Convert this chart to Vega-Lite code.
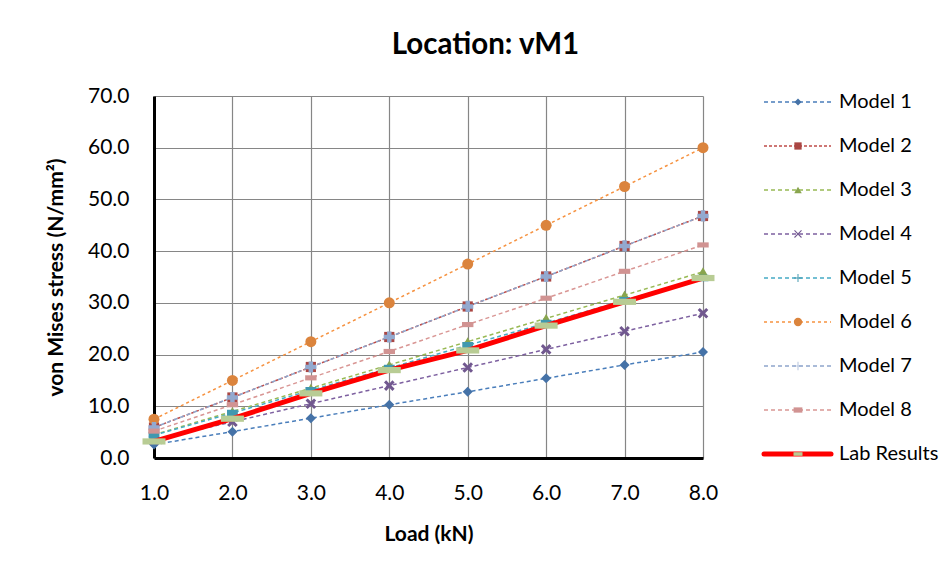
{
  "$schema": "https://vega.github.io/schema/vega-lite/v6.json",
  "background": "white",
  "padding": {"left": 45, "top": 29, "right": 0, "bottom": 10},
  "autosize": {"type": "pad"},
  "bounds": "flush",
  "spacing": 61,
  "config": {
    "font": "Lato",
    "view": {"stroke": null},
    "axis": {"labelFont": "Lato", "titleFont": "Lato", "labelColor": "#000000", "titleColor": "#000000", "labelFlush": false}
  },
  "datasets": {
    "series": [
      {"series": "Model 1"}, {"series": "Model 2"}, {"series": "Model 3"},
      {"series": "Model 4"}, {"series": "Model 5"}, {"series": "Model 6"},
      {"series": "Model 7"}, {"series": "Model 8"}, {"series": "Lab Results"}
    ],
    "values": [
      {"series": "Model 1", "load": 1, "stress": 2.6},
      {"series": "Model 1", "load": 2, "stress": 5.1},
      {"series": "Model 1", "load": 3, "stress": 7.7},
      {"series": "Model 1", "load": 4, "stress": 10.3},
      {"series": "Model 1", "load": 5, "stress": 12.8},
      {"series": "Model 1", "load": 6, "stress": 15.4},
      {"series": "Model 1", "load": 7, "stress": 18.0},
      {"series": "Model 1", "load": 8, "stress": 20.5},
      {"series": "Model 2", "load": 1, "stress": 5.9},
      {"series": "Model 2", "load": 2, "stress": 11.7},
      {"series": "Model 2", "load": 3, "stress": 17.6},
      {"series": "Model 2", "load": 4, "stress": 23.4},
      {"series": "Model 2", "load": 5, "stress": 29.3},
      {"series": "Model 2", "load": 6, "stress": 35.1},
      {"series": "Model 2", "load": 7, "stress": 41.0},
      {"series": "Model 2", "load": 8, "stress": 46.8},
      {"series": "Model 3", "load": 1, "stress": 4.5},
      {"series": "Model 3", "load": 2, "stress": 9.0},
      {"series": "Model 3", "load": 3, "stress": 13.5},
      {"series": "Model 3", "load": 4, "stress": 18.0},
      {"series": "Model 3", "load": 5, "stress": 22.5},
      {"series": "Model 3", "load": 6, "stress": 27.0},
      {"series": "Model 3", "load": 7, "stress": 31.5},
      {"series": "Model 3", "load": 8, "stress": 36.0},
      {"series": "Model 4", "load": 1, "stress": 3.5},
      {"series": "Model 4", "load": 2, "stress": 7.0},
      {"series": "Model 4", "load": 3, "stress": 10.5},
      {"series": "Model 4", "load": 4, "stress": 14.0},
      {"series": "Model 4", "load": 5, "stress": 17.5},
      {"series": "Model 4", "load": 6, "stress": 21.0},
      {"series": "Model 4", "load": 7, "stress": 24.5},
      {"series": "Model 4", "load": 8, "stress": 28.0},
      {"series": "Model 5", "load": 1, "stress": 4.4},
      {"series": "Model 5", "load": 2, "stress": 8.7},
      {"series": "Model 5", "load": 3, "stress": 13.1},
      {"series": "Model 5", "load": 4, "stress": 17.4},
      {"series": "Model 5", "load": 5, "stress": 21.8},
      {"series": "Model 5", "load": 6, "stress": 26.1},
      {"series": "Model 5", "load": 7, "stress": 30.5},
      {"series": "Model 5", "load": 8, "stress": 34.8},
      {"series": "Model 6", "load": 1, "stress": 7.5},
      {"series": "Model 6", "load": 2, "stress": 15.0},
      {"series": "Model 6", "load": 3, "stress": 22.5},
      {"series": "Model 6", "load": 4, "stress": 30.0},
      {"series": "Model 6", "load": 5, "stress": 37.5},
      {"series": "Model 6", "load": 6, "stress": 45.0},
      {"series": "Model 6", "load": 7, "stress": 52.5},
      {"series": "Model 6", "load": 8, "stress": 60.0},
      {"series": "Model 7", "load": 1, "stress": 5.9},
      {"series": "Model 7", "load": 2, "stress": 11.7},
      {"series": "Model 7", "load": 3, "stress": 17.6},
      {"series": "Model 7", "load": 4, "stress": 23.4},
      {"series": "Model 7", "load": 5, "stress": 29.3},
      {"series": "Model 7", "load": 6, "stress": 35.1},
      {"series": "Model 7", "load": 7, "stress": 41.0},
      {"series": "Model 7", "load": 8, "stress": 46.8},
      {"series": "Model 8", "load": 1, "stress": 5.2},
      {"series": "Model 8", "load": 2, "stress": 10.3},
      {"series": "Model 8", "load": 3, "stress": 15.5},
      {"series": "Model 8", "load": 4, "stress": 20.6},
      {"series": "Model 8", "load": 5, "stress": 25.8},
      {"series": "Model 8", "load": 6, "stress": 30.9},
      {"series": "Model 8", "load": 7, "stress": 36.1},
      {"series": "Model 8", "load": 8, "stress": 41.2},
      {"series": "Lab Results", "load": 1, "stress": 3.2},
      {"series": "Lab Results", "load": 2, "stress": 7.6},
      {"series": "Lab Results", "load": 3, "stress": 12.5},
      {"series": "Lab Results", "load": 4, "stress": 17.0},
      {"series": "Lab Results", "load": 5, "stress": 20.8},
      {"series": "Lab Results", "load": 6, "stress": 25.6},
      {"series": "Lab Results", "load": 7, "stress": 30.2},
      {"series": "Lab Results", "load": 8, "stress": 34.8}
    ]
  },
  "resolve": {"scale": {"x": "independent", "y": "independent", "size": "independent", "stroke": "independent", "fill": "independent", "shape": "independent", "strokeDash": "independent"}},
  "hconcat": [
    {
      "width": 549,
      "height": 362,
      "title": {"text": "Location: vM1", "fontSize": 29.5, "fontWeight": "bold", "font": "Lato", "color": "#000000", "dx": 57, "offset": 2, "baseline": "alphabetic"},
      "data": {"name": "values"},
      "encoding": {
        "x": {"field": "load", "type": "quantitative",
          "scale": {"domain": [1, 8], "nice": false, "zero": false},
          "axis": {"values": [1, 2, 3, 4, 5, 6, 7, 8], "format": ".1f", "title": "Load (kN)",
            "grid": true, "gridColor": "#868686", "gridWidth": 1.2, "ticks": false,
            "domainColor": "#000000", "domainWidth": 3,
            "labelFontSize": 21, "labelPadding": 24, "titleFontSize": 21, "titleFontWeight": "bold", "titlePadding": 20}},
        "y": {"field": "stress", "type": "quantitative",
          "scale": {"domain": [0, 70], "nice": false},
          "axis": {"values": [0, 10, 20, 30, 40, 50, 60, 70], "format": ".1f", "title": "von Mises stress (N/mm²)",
            "grid": true, "gridColor": "#868686", "gridWidth": 1.2, "ticks": false,
            "domainColor": "#000000", "domainWidth": 3,
            "labelFontSize": 21, "labelPadding": 25, "titleFontSize": 21, "titleFontWeight": "bold", "titlePadding": 21}}
      },
      "layer": [
        {
          "transform": [{"filter": "datum.series !== 'Lab Results'"}],
          "mark": {"type": "line", "strokeWidth": 1.5},
          "encoding": {
            "detail": {"field": "series"},
            "stroke": {"field": "series", "type": "nominal", "legend": null,
              "scale": {"domain": ["Model 1", "Model 2", "Model 3", "Model 4", "Model 5", "Model 6", "Model 7", "Model 8"],
                "range": ["#4A7EBB", "#BE4B48", "#98B954", "#7D60A0", "#46AAC5", "#F69240", "#8EA5CB", "#D99694"]}},
            "strokeDash": {"field": "series", "type": "nominal", "legend": null,
              "scale": {"domain": ["Model 1", "Model 2", "Model 3", "Model 4", "Model 5", "Model 6", "Model 7", "Model 8"],
                "range": [[4, 3], [3, 2], [4, 3], [4, 3], [4, 3], [3, 3], [4, 3], [4, 3]]}}
          }
        },
        {
          "transform": [{"filter": "datum.series !== 'Lab Results'"}],
          "mark": {"type": "point", "filled": true, "opacity": 1, "strokeWidth": 0},
          "encoding": {
            "fill": {"field": "series", "type": "nominal", "legend": null,
              "scale": {"domain": ["Model 1", "Model 2", "Model 3", "Model 4", "Model 5", "Model 6", "Model 7", "Model 8"],
                "range": ["#4572A7", "#AA4643", "#89A54E", "#71588F", "#4198AF", "#DB843D", "#93A9CF", "#D19392"]}},
            "shape": {"field": "series", "type": "nominal", "legend": null,
              "scale": {"domain": ["Model 1", "Model 2", "Model 3", "Model 4", "Model 5", "Model 6", "Model 7", "Model 8"],
                "range": ["diamond", "square", "triangle-up",
                  "M-1,-0.6L-0.6,-1L0,-0.4L0.6,-1L1,-0.6L0.4,0L1,0.6L0.6,1L0,0.4L-0.6,1L-1,0.6L-0.4,0Z",
                  "M-1,-0.6H1V0.6H-1Z",
                  "circle", "cross",
                  "M-1,-0.45H1V0.45H-1Z"]}},
            "size": {"field": "series", "type": "nominal", "legend": null,
              "scale": {"domain": ["Model 1", "Model 2", "Model 3", "Model 4", "Model 5", "Model 6", "Model 7", "Model 8"],
                "range": [100, 130, 121, 90, 90, 110, 90, 81]}}
          }
        },
        {
          "transform": [{"filter": "datum.series === 'Lab Results'"}],
          "mark": {"type": "line", "strokeWidth": 5, "stroke": "#FF0000"},
          "encoding": {}
        },
        {
          "transform": [{"filter": "datum.series === 'Lab Results'"}],
          "mark": {"type": "point", "filled": true, "opacity": 1, "strokeWidth": 0, "fill": "#B8CC94", "size": 529, "shape": "M-1,-0.27H1V0.27H-1Z"},
          "encoding": {}
        }
      ]
    },
    {
      "width": 188,
      "height": 364,
      "data": {"name": "series"},
      "encoding": {
        "y": {"field": "series", "type": "nominal", "axis": null,
          "scale": {"type": "point", "padding": 0.136,
            "domain": ["Model 1", "Model 2", "Model 3", "Model 4", "Model 5", "Model 6", "Model 7", "Model 8", "Lab Results"]}},
        "x": {"datum": 0, "type": "quantitative", "scale": {"domain": [0, 188], "nice": false, "zero": false}, "axis": null}
      },
      "layer": [
        {
          "transform": [{"filter": "datum.series !== 'Lab Results'"}],
          "mark": {"type": "rule", "strokeWidth": 1.5},
          "encoding": {
            "x2": {"datum": 67},
            "stroke": {"field": "series", "type": "nominal", "legend": null,
              "scale": {"domain": ["Model 1", "Model 2", "Model 3", "Model 4", "Model 5", "Model 6", "Model 7", "Model 8"],
                "range": ["#4A7EBB", "#BE4B48", "#98B954", "#7D60A0", "#46AAC5", "#F69240", "#8EA5CB", "#D99694"]}},
            "strokeDash": {"field": "series", "type": "nominal", "legend": null,
              "scale": {"domain": ["Model 1", "Model 2", "Model 3", "Model 4", "Model 5", "Model 6", "Model 7", "Model 8"],
                "range": [[4, 3], [3, 2], [4, 3], [4, 3], [4, 3], [3, 3], [4, 3], [4, 3]]}}
          }
        },
        {
          "transform": [{"filter": "datum.series === 'Lab Results'"}],
          "mark": {"type": "rule", "strokeWidth": 5, "stroke": "#FF0000", "strokeCap": "round"},
          "encoding": {"x2": {"datum": 67}}
        },
        {
          "mark": {"type": "point", "filled": true, "opacity": 1, "strokeWidth": 0},
          "encoding": {
            "x": {"datum": 34, "type": "quantitative"},
            "fill": {"field": "series", "type": "nominal", "legend": null,
              "scale": {"domain": ["Model 1", "Model 2", "Model 3", "Model 4", "Model 5", "Model 6", "Model 7", "Model 8", "Lab Results"],
                "range": ["#4572A7", "#AA4643", "#89A54E", "#71588F", "#4198AF", "#DB843D", "#93A9CF", "#D19392", "#B8CC94"]}},
            "shape": {"field": "series", "type": "nominal", "legend": null,
              "scale": {"domain": ["Model 1", "Model 2", "Model 3", "Model 4", "Model 5", "Model 6", "Model 7", "Model 8", "Lab Results"],
                "range": ["diamond", "square", "triangle-up",
                  "M-1,-0.8L-0.8,-1L0,-0.2L0.8,-1L1,-0.8L0.2,0L1,0.8L0.8,1L0,0.2L-0.8,1L-1,0.8L-0.2,0Z",
                  "M-1,-0.12H1V0.12H-1Z M-0.12,-1H0.12V1H-0.12Z",
                  "circle",
                  "M-1,-0.08H1V0.08H-1Z M-0.08,-1H0.08V1H-0.08Z",
                  "M-1,-0.6H1V0.6H-1Z",
                  "M-1,-0.4H1V0.4H-1Z"]}},
            "size": {"field": "series", "type": "nominal", "legend": null,
              "scale": {"domain": ["Model 1", "Model 2", "Model 3", "Model 4", "Model 5", "Model 6", "Model 7", "Model 8", "Lab Results"],
                "range": [49, 81, 64, 64, 81, 81, 81, 25, 110]}}
          }
        },
        {
          "mark": {"type": "text", "align": "left", "baseline": "middle", "fontSize": 20, "font": "Lato", "color": "#000000"},
          "encoding": {
            "x": {"datum": 75, "type": "quantitative"},
            "text": {"field": "series"}
          }
        }
      ]
    }
  ]
}
